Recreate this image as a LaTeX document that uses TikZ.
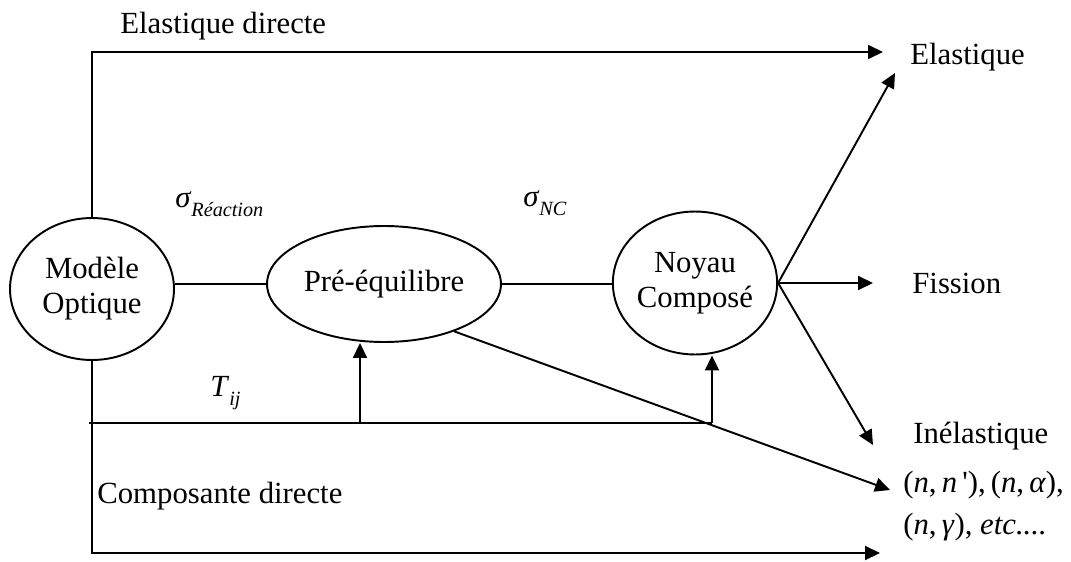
\documentclass[tikz,border=0pt]{standalone}
\usepackage{fontspec}
\setmainfont{Liberation Serif}
\usetikzlibrary{shapes.geometric,arrows.meta}

\newcommand{\indice}[1]{\raisebox{-0.7ex}{\fontsize{11.5}{12}\selectfont\itshape #1}}

\begin{document}
\begin{tikzpicture}[x=0.02cm,y=0.02cm,
  bulle/.style={draw,ellipse,line width=1.1pt,align=center},
  trait/.style={line width=1.1pt},
  fleche/.style={line width=1.1pt,-{Triangle[length=0.3cm,width=0.28cm]}}]
\tikzstyle{every node}+=[inner sep=0pt,font=\fontsize{17.5}{20}\selectfont]
\useasboundingbox (0,0) rectangle (1071,-561);
\node [bulle,minimum width=3.28cm,minimum height=2.84cm] (modele) at (92,-289) {Modèle\\Optique};
\node [bulle,minimum width=4.68cm,minimum height=2.32cm] (pre) at (384,-284) {Pré-équilibre};
\node [bulle,minimum width=3.28cm,minimum height=2.86cm] (noyau) at (695,-283) {Noyau\\Composé};
\node [anchor=base west] (elasdir) at (120,-33) {Elastique directe};
\node [anchor=base west] (elastique) at (910,-64) {Elastique};
\node [anchor=base west] (fission) at (912,-293) {Fission};
\node [anchor=base west] (inelastique) at (913,-443) {Inélastique};
\node [anchor=base west] (voies) at (903,-492) {(\textit{n},\,\textit{n}\,\textquotesingle),\,(\textit{n},\,\textit{α}),};
\node [anchor=base west] (autres) at (903,-534) {(\textit{n},\,\textit{γ}), \textit{etc....}};
\node [anchor=base west] (compdir) at (97,-503) {Composante directe};
\node [anchor=base west] (sigr) at (175,-207) {\textit{σ}\indice{Réaction}};
\node [anchor=base west] (signc) at (523,-206) {\textit{σ}\indice{NC}};
\node [anchor=base west] (tij) at (210,-396) {\textit{T}\indice{ij}};
\coordinate (vElas) at (883,-52);
\coordinate (vElas2) at (895,-73);
\coordinate (vFis) at (873,-283);
\coordinate (vInel) at (873,-445);
\coordinate (vVoies) at (890,-490);
\coordinate (vBas) at (880,-553);
\coordinate (depart) at (89,-423);
\coordinate (coude) at (712,-423);
\coordinate (montee) at (360,-423);
% voie directe
\draw [fleche] (modele.north) |- (vElas);
\draw [fleche] (modele.south) |- (vBas);
% chaine des modeles
\draw [trait] (modele.east |- pre.west) -- (pre.west);
\draw [trait] (pre.east) -- (pre.east -| noyau.west);
\draw [fleche] (noyau.east) -- (vElas2);
\draw [fleche] (noyau.east) -- (vFis);
\draw [fleche] (noyau.east) -- (vInel);
\draw [fleche] (pre.-34) -- (vVoies);
% coefficients de transmission
\draw [trait] (depart) -- (coude);
\draw [fleche] (montee) -- (montee |- pre.south);
\draw [fleche] (coude) -- (coude |- noyau.south);
\end{tikzpicture}
\end{document}
